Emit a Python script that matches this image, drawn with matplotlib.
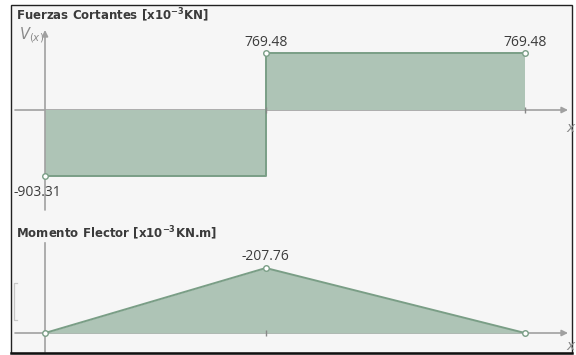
import matplotlib.pyplot as plt
from matplotlib.patches import Rectangle
from matplotlib.lines import Line2D

# beam positions (m) and values
x_shear = [0, 0.23, 0.23, 0.5]
v_shear = [-903.31, -903.31, 769.48, 769.48]
x_moment = [0, 0.23, 0.5]
m_moment = [0, -207.76, 0]

shear_pts_x = [0, 0.23, 0.5]
shear_pts_y = [-903.31, 769.48, 769.48]
shear_labels = ["-903.31", "769.48", "769.48"]
moment_labels = ["", "-207.76", ""]

title_v = "Fuerzas Cortantes [x10$^{\\mathregular{-3}}$KN]"
title_m = "Momento Flector [x10$^{\\mathregular{-3}}$KN.m]"

fill_c = "#aec4b6"
edge_c = "#7a9e86"
axis_c = "#a0a0a0"
text_c = "#3c3c3c"

W, H = 576, 355
fig = plt.figure(figsize=(W / 100, H / 100), dpi=100)
fig.patch.set_facecolor("white")

# frame
fig.patches.append(Rectangle((11 / W, 1 - 353 / H), (572 - 11) / W, (353 - 5) / H,
                             transform=fig.transFigure, facecolor="#f6f6f6",
                             edgecolor="#222222", linewidth=1.0, zorder=-5))
fig.lines.append(Line2D([11 / W, 572 / W], [1 - 353 / H, 1 - 353 / H],
                        transform=fig.transFigure, color="#111111", lw=1.8))
# small bracket at the left of the moment panel
fig.lines.append(Line2D([17 / W, 14 / W, 14 / W, 17 / W],
                        [1 - 283 / H, 1 - 283 / H, 1 - 320 / H, 1 - 320 / H],
                        transform=fig.transFigure, color="#c8c8c8", lw=0.9))

px = 1 / 960.0  # metres per pixel horizontally
x0 = -45 * px
x1 = (W - 45) * px

# shear panel: pixels 0..220, zero at 110
ax1 = fig.add_axes([0, 1 - 220 / H, 1, 220 / H])
s1 = 13.6
ax1.set_xlim(x0, x1)
ax1.set_ylim(-110 * s1, 110 * s1)
ax1.axis("off")
ax1.patch.set_alpha(0)

ax1.fill_between(x_shear, v_shear, 0, color=fill_c, linewidth=0, zorder=2)
ax1.plot(x_shear, v_shear, color=edge_c, linewidth=1.4, zorder=3)
ax1.annotate("", xy=(523 * px, 0), xytext=(-30 * px, 0),
             arrowprops=dict(arrowstyle="-|>", color=axis_c, lw=1.2,
                             mutation_scale=9, shrinkA=0, shrinkB=0), zorder=1)
ax1.annotate("", xy=(0, 80 * s1), xytext=(0, -100 * s1),
             arrowprops=dict(arrowstyle="-|>", color=axis_c, lw=1.2,
                             mutation_scale=9, shrinkA=0, shrinkB=0), zorder=4)
ax1.plot(shear_pts_x, shear_pts_y, "o", ms=4, mfc="white", mec=edge_c, mew=1.0, zorder=5)
ax1.plot(shear_pts_x[1:], [0, 0], "|", ms=5, color="#888888", zorder=4)
for xv, yv, lab in zip(shear_pts_x, shear_pts_y, shear_labels):
    if yv < 0:
        ax1.annotate(lab, (xv, yv), xytext=(-8, -16), textcoords="offset pixels",
                     ha="center", va="center", fontsize=10, color=text_c,
                     family="Open Sans", zorder=6)
    else:
        ax1.annotate(lab, (xv, yv), xytext=(0, 11), textcoords="offset pixels",
                     ha="center", va="center", fontsize=10, color=text_c,
                     family="Open Sans", zorder=6)

ax1.text(-29 * px, 104 * s1, title_v, ha="left", va="top", fontsize=8.5,
         fontweight="bold", color="#3a3a3a", family="DejaVu Sans")
ax1.text(-26 * px, 75 * s1, "$V_{(x)}$", ha="left", va="center", fontsize=10.5,
         color="#8a8a8a")
ax1.text(521 * px, -18 * s1, "$x$", ha="left", va="center", fontsize=10,
         color="#8a8a8a")

# moment panel: pixels 220..355, zero at 333
ax2 = fig.add_axes([0, 0, 1, 135 / H])
s2 = 3.196
ax2.set_xlim(x0, x1)
ax2.set_ylim(22 * s2, -113 * s2)
ax2.axis("off")
ax2.patch.set_alpha(0)

ax2.fill_between(x_moment, m_moment, 0, color=fill_c, linewidth=0, zorder=2)
ax2.plot(x_moment, m_moment, color=edge_c, linewidth=1.4, zorder=3)
ax2.annotate("", xy=(523 * px, 0), xytext=(-30 * px, 0),
             arrowprops=dict(arrowstyle="-|>", color=axis_c, lw=1.2,
                             mutation_scale=9, shrinkA=0, shrinkB=0), zorder=1)
ax2.plot([0, 0], [-90 * s2, 20 * s2], color=axis_c, lw=1.2, zorder=1)
ax2.plot(x_moment, m_moment, "o", ms=4, mfc="white", mec=edge_c, mew=1.0, zorder=5)
ax2.plot(x_moment[1:2], [0], "|", ms=5, color="#888888", zorder=4)
for xv, yv, lab in zip(x_moment, m_moment, moment_labels):
    if lab:
        ax2.annotate(lab, (xv, yv), xytext=(0, 11), textcoords="offset pixels",
                     ha="center", va="center", fontsize=10, color=text_c,
                     family="Open Sans", zorder=6)
ax2.text(-29 * px, -109 * s2, title_m, ha="left", va="top",
         fontsize=8.5, fontweight="bold", color="#3a3a3a", family="DejaVu Sans")
ax2.text(521 * px, 13 * s2, "$x$", ha="left", va="center", fontsize=10,
         color="#8a8a8a")

fig.savefig("out.png", dpi=100)
